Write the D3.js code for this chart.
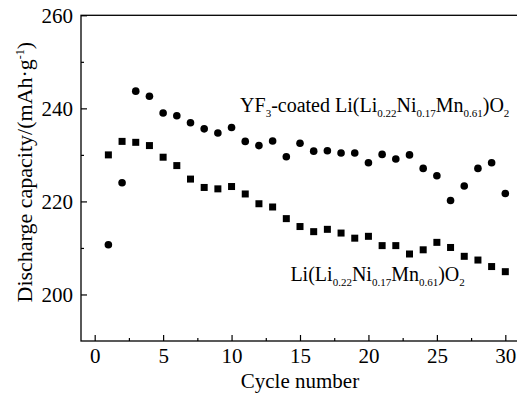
<!DOCTYPE html>
<html>
<head>
<meta charset="utf-8">
<script src="https://cdn.jsdelivr.net/npm/d3@7"></script>
<style>
  body { margin: 0; background: #fff; }
  svg { display: block; }
  text { font-family: "Liberation Serif", "Times New Roman", serif; fill: #000; }
</style>
</head>
<body>
<div id="chart"></div>
<script>
var width = 517;
var height = 393;

// cycle numbers 1..30
var cycles = [1, 2, 3, 4, 5, 6, 7, 8, 9, 10, 11, 12, 13, 14, 15,
              16, 17, 18, 19, 20, 21, 22, 23, 24, 25, 26, 27, 28, 29, 30];

// YF3-coated sample (circles)
var coated = [210.7, 224.0, 243.7, 242.6, 239.0, 238.4, 236.9, 235.6, 234.7, 235.9,
              232.9, 232.0, 233.0, 229.6, 232.5, 230.8, 230.9, 230.4, 230.4, 228.3,
              230.1, 229.1, 230.0, 227.1, 225.5, 220.2, 223.3, 227.1, 228.3, 221.7];

// pristine sample (squares)
var pristine = [230.0, 232.9, 232.7, 232.0, 229.5, 227.7, 224.8, 223.0, 222.7, 223.2,
                221.6, 219.5, 218.8, 216.3, 214.6, 213.5, 214.0, 213.2, 212.1, 212.5,
                210.5, 210.5, 208.7, 209.6, 211.2, 210.1, 208.2, 207.4, 206.0, 204.9];

var xTicks = [0, 5, 10, 15, 20, 25, 30];
var xMinor = [2.5, 7.5, 12.5, 17.5, 22.5, 27.5];
var yTicks = [200, 220, 240, 260];
var yMinor = [210, 230, 250];

var xDomain = [-1, 31];
var yDomain = [190, 260];

var xTitle = "Cycle number";

function createSVG() {
  return d3.select("#chart")
    .append("svg")
    .attr("width", width)
    .attr("height", height);
}

function drawAxes(svg, x, y) {
  var left = x.range()[0], right = x.range()[1];
  var top = y.range()[1], bottom = y.range()[0];

  // frame (right side falls just outside the picture)
  svg.append("rect")
    .attr("x", left).attr("y", top)
    .attr("width", right - left).attr("height", bottom - top)
    .attr("fill", "none").attr("stroke", "#000").attr("stroke-width", 1.3);

  svg.append("g")
    .attr("transform", "translate(" + left + ",0)")
    .call(d3.axisLeft(y).tickValues(yTicks).tickSize(-6).tickPadding(8));
  svg.append("g")
    .attr("transform", "translate(" + left + ",0)")
    .call(d3.axisLeft(y).tickValues(yMinor).tickSize(-3).tickFormat(""));

  svg.append("g")
    .attr("transform", "translate(0," + bottom + ")")
    .call(d3.axisBottom(x).tickValues(xTicks).tickSize(-6).tickPadding(7));
  svg.append("g")
    .attr("transform", "translate(0," + bottom + ")")
    .call(d3.axisBottom(x).tickValues(xMinor).tickSize(-3).tickFormat(""));

  svg.selectAll(".domain").remove();
  svg.selectAll(".tick line").attr("stroke", "#000").attr("stroke-width", 1.2);
  svg.selectAll(".tick text")
    .attr("fill", "#000")
    .style("font-family", '"Liberation Serif", "Times New Roman", serif')
    .style("font-size", "21px");

  svg.append("text")
    .attr("x", (left + right) / 2)
    .attr("y", 388)
    .attr("text-anchor", "middle")
    .style("font-size", "21px")
    .text(xTitle);

  // y title with superscript
  var yt = svg.append("text")
    .attr("transform", "translate(32," + ((top + bottom) / 2 - 6) + ") rotate(-90)")
    .attr("text-anchor", "middle")
    .style("font-size", "22px");
  yt.append("tspan").text("Discharge capacity/(mAh\u00b7g");
  yt.append("tspan").attr("dy", -8).style("font-size", "12px").text("-1");
  yt.append("tspan").attr("dy", 8).text(")");
}

function formula(svg, x0, y0, parts) {
  var t = svg.append("text")
    .attr("x", x0).attr("y", y0)
    .style("font-size", "20px");
  var shift = 0;
  parts.forEach(function(p) {
    var dy = p.sub ? (shift ? 0 : 5) : (shift ? -5 : 0);
    shift = p.sub ? 5 : 0;
    t.append("tspan")
      .attr("dy", dy)
      .style("font-size", p.sub ? "11px" : "20px")
      .text(p.t);
  });
}

function createChart() {
  var svg = createSVG();

  var x = d3.scaleLinear().domain(xDomain).range([81, 519]);
  var y = d3.scaleLinear().domain(yDomain).range([341, 15.3]);

  drawAxes(svg, x, y);

  svg.append("g").selectAll("circle")
    .data(cycles)
    .enter()
    .append("circle")
    .attr("cx", function(d) { return x(d); })
    .attr("cy", function(d, i) { return y(coated[i]); })
    .attr("r", 3.8)
    .attr("fill", "#000");

  var s = 7;
  svg.append("g").selectAll("rect")
    .data(cycles)
    .enter()
    .append("rect")
    .attr("x", function(d) { return x(d) - s / 2; })
    .attr("y", function(d, i) { return y(pristine[i]) - s / 2; })
    .attr("width", s)
    .attr("height", s)
    .attr("fill", "#000");

  var base = [
    {t: "Li(Li"}, {t: "0.22", sub: true}, {t: "Ni"}, {t: "0.17", sub: true},
    {t: "Mn"}, {t: "0.61", sub: true}, {t: ")O"}, {t: "2", sub: true}
  ];
  formula(svg, x(10.62), y(239.2),
    [{t: "YF"}, {t: "3", sub: true}, {t: "-coated "}].concat(base));
  formula(svg, x(14.3), y(202.8), base);
}

window.onload = function() {
  createChart();
};
</script>
</body>
</html>
